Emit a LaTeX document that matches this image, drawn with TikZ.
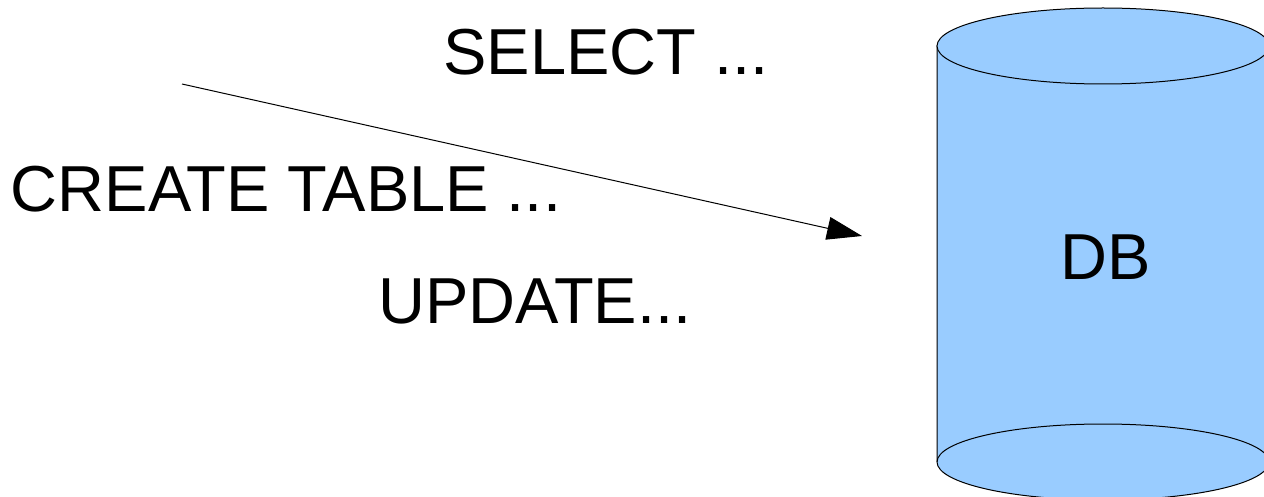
\documentclass[tikz,border=0pt]{standalone}
\usepackage{fontspec}
\setmainfont{Liberation Sans}
\usetikzlibrary{arrows.meta}

\definecolor{dbblue}{HTML}{99CCFF}

\tikzset{
    query/.style={font=\fontsize{65}{78}\selectfont, inner sep=0pt},
    dbshape/.style={draw=black, fill=dbblue, line width=1pt},
}

\begin{document}
\begin{tikzpicture}[x=1pt, y=1pt]

                \useasboundingbox (0,0) rectangle (1264,496);

                % database cylinder
                \filldraw[dbshape] (937,450) -- (937,34)
                    arc[start angle=180, end angle=360, x radius=166pt, y radius=38pt]
                    -- (1269,450) -- cycle;
                \draw[dbshape] (1103,450) ellipse [x radius=166pt, y radius=38pt];
                \draw[line width=1pt] (937,34) arc[start angle=180, end angle=0, x radius=166pt, y radius=38pt];
                \node[query] (db) at (1106,239) {DB};

                % statements
                \node[query] (select) at (606,444) {SELECT ...};
                \node[query] (create) at (286,307) {CREATE TABLE ...};
                \node[query] (update) at (535,195) {UPDATE...};

                \coordinate (from) at (182,412);
                \coordinate (to) at (862,260);
                \draw[line width=1pt, -{Triangle[length=35pt, width=23pt]}] (from) -- (to);

\end{tikzpicture}
\end{document}
